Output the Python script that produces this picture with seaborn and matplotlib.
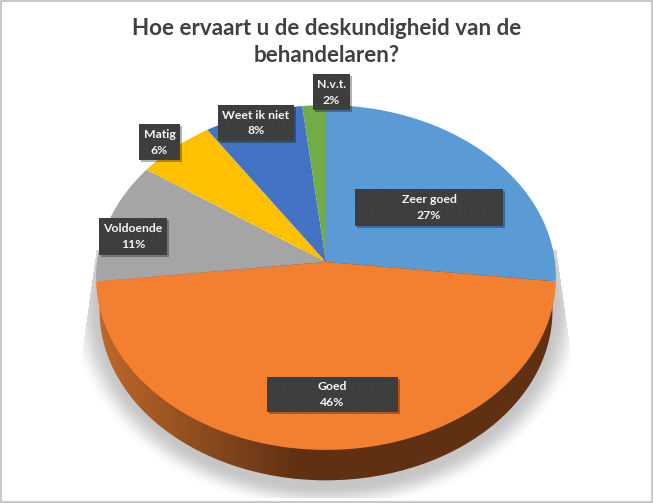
import numpy as np
import matplotlib
matplotlib.use('Agg')
import matplotlib.pyplot as plt
from matplotlib.patches import Rectangle, Wedge
from matplotlib.transforms import Transform
import seaborn as sns

categories = ['Zeer goed', 'Goed', 'Voldoende', 'Matig', 'Weet ik niet', 'N.v.t.']
values = [26.8, 46.4, 11.4, 6.0, 7.6, 1.8]
colors = ['#5B9BD5', '#F37F30', '#A5A5A5', '#FFC000', '#4472C4', '#70AD47']
title = 'Hoe ervaart u de deskundigheid van de\nbehandelaren?'

# label boxes in pixels: left, top, right, bottom
boxes = [(355, 189, 503, 226), (267, 377, 398, 412), (99, 218, 167, 255),
         (139, 124, 180, 160), (218, 105, 294, 141), (313, 74, 350, 110)]

W, H = 653, 503
CX, CY = 326, 262
K = 0.09
A, B = 229, 171
DEPTH = 33


class Tilt(Transform):
    # unit pie -> pixels, with perspective so the apex sits above the ellipse centre
    input_dims = output_dims = 2

    def __init__(self, drop=0, shrink=1.0):
        super().__init__()
        self.drop = drop
        self.shrink = shrink

    def transform_non_affine(self, xy):
        xy = np.asarray(xy)
        d = 1 + K * xy[:, 1]
        px = CX + self.shrink * A * xy[:, 0] / d
        py = CY + 16 + self.drop - self.shrink * (B * xy[:, 1] / d + 16)
        return np.column_stack([px, py])

    transform = transform_non_affine


sns.set_theme(style='white')
plt.rcParams['font.family'] = ['Lato', 'DejaVu Sans']
plt.rcParams['hatch.linewidth'] = 0.3

fig = plt.figure(figsize=(W / 100, H / 100), dpi=100, facecolor='white')
ax = fig.add_axes([0, 0, 1, 1])

wedges, _ = ax.pie(values, colors=sns.color_palette(colors), startangle=90,
                   counterclock=False, wedgeprops={'linewidth': 0})
ax.set_aspect('auto')
ax.set_xlim(0, W)
ax.set_ylim(H, 0)
ax.axis('off')

# soft shadow below the pie
yy, xx = np.mgrid[0:H, 0:W]
r = np.hypot((xx - CX) / 258, (yy - 305) / 205)
fade = np.clip((1 - r) / 0.12, 0, 1)
fade = fade * fade * (3 - 2 * fade)
left = 96 - (yy - 250) * 0.14
right = 556 + (yy - 250) * 0.14
fade[(yy < 250) | (yy > 497) | (xx < left) | (xx > right)] = 0
shadow = np.zeros((H, W, 4))
shadow[..., :3] = 0.78
shadow[..., 3] = fade
ax.imshow(shadow, extent=(0, W, H, 0), aspect='auto', zorder=1, interpolation='bilinear')

# side wall, horizontal gradient clipped by the lower disc
wall = np.interp(np.linspace(96, 556, 461), [96, 130, 220, 300, 556], [0, 0.18, 0.62, 1, 1])
light = np.array([0xC0, 0x6A, 0x2C]) / 255
dark = np.array([0x5F, 0x30, 0x12]) / 255
grad = (light[None, :] * (1 - wall[:, None]) + dark[None, :] * wall[:, None])[None, :, :]
im = ax.imshow(grad, extent=(96, 557, 490, 260), aspect='auto', zorder=2)
disc = Wedge((0, 0), 1, 0, 360, transform=Tilt(DEPTH, 0.985) + ax.transData, fc='none', lw=0)
ax.add_patch(disc)
im.set_clip_path(disc)

# top surface
for w in wedges:
    w.set_transform(Tilt() + ax.transData)
    w.set_zorder(3)
    w.set_clip_on(False)

# data labels
for name, val, (x0, y0, x1, y1) in zip(categories, values, boxes):
    ax.add_patch(Rectangle((x0 + 2, y0 + 2), x1 - x0, y1 - y0, fc='#000000', alpha=0.3, lw=0, zorder=4))
    ax.add_patch(Rectangle((x0, y0), x1 - x0, y1 - y0, fc='#3B3B3B', ec='#505050', hatch='.......', lw=0, zorder=5))
    xm = (x0 + x1) / 2
    ym = (y0 + y1) / 2
    ax.text(xm, ym - 8, name, color='#F5F5F5', fontsize=8.8, fontweight='bold', ha='center', va='center', zorder=6)
    ax.text(xm, ym + 8, f'{val:.0f}%', color='#F5F5F5', fontsize=8.8, fontweight='bold', ha='center', va='center', zorder=6)

ax.text(327, 42, title, color='#404040', fontsize=16.1, fontweight='bold', ha='center', va='center',
        linespacing=1.38, zorder=6)

# frame of the screenshot
ax.add_patch(Rectangle((0.5, 0.5), W - 1.5, H - 1.5, fc='none', ec='#BFBFBF', lw=1.2, zorder=7))

fig.savefig('out.png', dpi=100, facecolor='white')
